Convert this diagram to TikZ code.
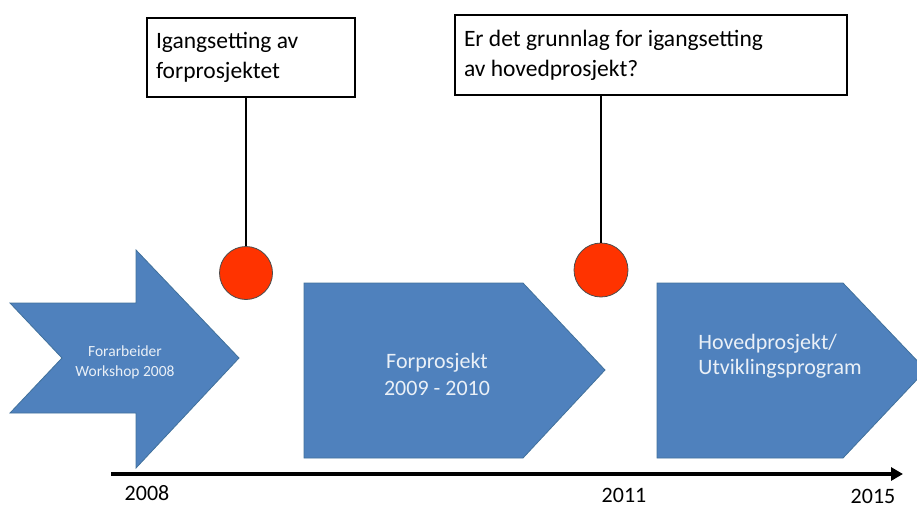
\documentclass[tikz,border=0pt]{standalone}
\usepackage{fontspec}
\setmainfont{Carlito}
\usetikzlibrary{arrows.meta}
\definecolor{phaseblue}{HTML}{4F81BD}
\definecolor{phaseedge}{HTML}{41719C}
\definecolor{gatered}{HTML}{FF3300}

\begin{document}
\begin{tikzpicture}[x=1pt,y=-1pt,
  phase/.style={fill=phaseblue,draw=phaseedge,line width=0.8pt},
  phasetext/.style={text=white!88!phaseblue,inner sep=0pt},
  gate/.style={circle,fill=gatered,draw=black!70,line width=0.8pt,minimum size=53pt,inner sep=0pt},
  question/.style={draw,line width=2pt,align=flush left,inner xsep=9pt,inner ysep=0pt,font=\fontsize{23.5}{30}\selectfont},
  year/.style={anchor=base,font=\fontsize{22}{26}\selectfont}]
  \useasboundingbox (0,0) rectangle (917,511);
  \draw[phase] (10,303) -- (136,303) -- (136,250) -- (239,358) -- (136,468) -- (136,413) -- (10,413) -- (62,358) -- cycle;
  \draw[phase] (304,283) -- (523,283) -- (605,370) -- (523,458) -- (304,458) -- cycle;
  \draw[phase] (657,283) -- (843,283) -- (926,370) -- (843,458) -- (657,458) -- cycle;
  \node[phasetext,align=center,font=\fontsize{15.5}{20}\selectfont] (pre) at (125,362) {Forarbeider\\Workshop 2008};
  \node[phasetext,align=center,font=\fontsize{22}{27}\selectfont] (forp) at (437,374) {Forprosjekt\\2009 - 2010};
  \node[phasetext,align=flush left,font=\fontsize{22}{25}\selectfont] (hovp) at (780,356) {Hovedprosjekt/\\Utviklingsprogram};
  \node[question,text width=190pt,minimum height=79pt] (q1) at (251,57.5) {Igangsetting av\\forprosjektet};
  \node[question,text width=374pt,minimum height=80pt] (q2) at (651,55) {Er det grunnlag for igangsetting\\av hovedprosjekt?};
  \node[gate] (g1) at (246,273) {};
  \node[gate,minimum size=54pt] (g2) at (601,270) {};
  \draw[line width=2.5pt] (g1.north) -- (g1.north |- q1.south);
  \draw[line width=2.5pt] (g2.north) -- (g2.north |- q2.south);
  \coordinate (t0) at (111,474);
  \coordinate (t1) at (903,474);
  \draw[line width=4pt,-{Triangle[length=12pt,width=13pt]}] (t0) -- (t1);
  \node[year] (y1) at (147,500) {2008};
  \node[year] (y2) at (624,502) {2011};
  \node[year] (y3) at (873,503) {2015};
\end{tikzpicture}
\end{document}
